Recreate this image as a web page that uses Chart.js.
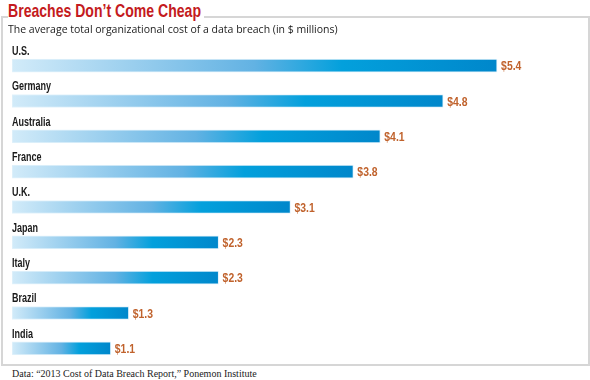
<!DOCTYPE html>
<html>
<head>
<meta charset="utf-8">
<script src="https://cdn.jsdelivr.net/npm/chart.js@4/dist/chart.umd.min.js"></script>
<style>
  body { margin: 0; background: #fff; }
  #wrap { position: relative; width: 590px; height: 380px; overflow: hidden; }
  #title {
    position: absolute; left: 8px; top: 0px;
    font-family: "Liberation Sans", Arial, sans-serif;
    font-weight: bold; font-size: 19px; color: #c41a20;
    transform: scaleX(0.74); transform-origin: 0 0;
    background: #fff; padding-right: 4px; z-index: 2; line-height: 22px;
  }
  #box {
    position: absolute; left: 1px; top: 16px; width: 585px; height: 346px;
    border: 2px solid #d6d6d6;
  }
  #subtitle {
    position: absolute; left: 8px; top: 22px;
    font-family: "Open Sans", "Liberation Sans", sans-serif; font-size: 10.5px; color: #222;
    z-index: 2;
  }
  #source {
    position: absolute; left: 12px; top: 368px;
    font-family: "Liberation Serif", "DejaVu Serif", serif; font-size: 10px; color: #222;
  }
  canvas { position: absolute; left: 0; top: 0; }
</style>
</head>
<body>
<div id="wrap">
  <div id="box"></div>
  <div id="title">Breaches Don’t Come Cheap</div>
  <div id="subtitle">The average total organizational cost of a data breach (in $ millions)</div>
  <div id="source">Data: “2013 Cost of Data Breach Report,” Ponemon Institute</div>
  <canvas id="barChart" width="590" height="380"></canvas>
</div>
<script>
var countries = ['U.S.', 'Germany', 'Australia', 'France', 'U.K.', 'Japan', 'Italy', 'Brazil', 'India'];
var costs = [5.4, 4.8, 4.1, 3.8, 3.1, 2.3, 2.3, 1.3, 1.1];

var labelFont = '"Liberation Sans", Arial, sans-serif';

// gradient goes from light to dark along each bar
function barGradient(context) {
  var chart = context.chart;
  if (!chart.chartArea) return '#30a0dc';
  var x = chart.scales.x;
  var x0 = x.getPixelForValue(0);
  var x1 = x.getPixelForValue(costs[context.dataIndex]);
  var g = chart.ctx.createLinearGradient(x0, 0, x1, 0);
  g.addColorStop(0, '#d2ebf9');
  g.addColorStop(0.5, '#62b2e3');
  g.addColorStop(0.68, '#03a0dc');
  g.addColorStop(1, '#0087cb');
  return g;
}

// draw squeezed text to fake the condensed face of the original
function narrowText(ctx, text, x, y, squeeze) {
  ctx.save();
  ctx.translate(x, y);
  ctx.scale(squeeze, 1);
  ctx.fillText(text, 0, 0);
  ctx.restore();
}

// country name above each bar, dollar value right of it
var barLabels = {
  id: 'barLabels',
  afterDatasetsDraw: function (chart) {
    var ctx = chart.ctx;
    var meta = chart.getDatasetMeta(0);
    ctx.save();
    ctx.textBaseline = 'middle';
    ctx.textAlign = 'left';
    meta.data.forEach(function (bar, i) {
      ctx.font = 'bold 12px ' + labelFont;
      ctx.fillStyle = '#1a1a1a';
      narrowText(ctx, countries[i], bar.base, bar.y - 14, 0.75);
      ctx.font = 'bold 13px ' + labelFont;
      ctx.fillStyle = '#c0622c';
      narrowText(ctx, '$' + costs[i].toFixed(1), bar.x + 4, bar.y + 1, 0.8);
    });
    ctx.restore();
  }
};

var ctx = document.getElementById('barChart');
var myBarChart = new Chart(ctx, {
  type: 'bar',
  data: {
    labels: countries,
    datasets: [{
      data: costs,
      backgroundColor: barGradient,
      borderColor: '#e2f2fb',
      borderWidth: 1,
      borderSkipped: false,
      barThickness: 13
    }]
  },
  options: {
    indexAxis: 'y',
    responsive: false,
    animation: false,
    layout: { padding: { left: 12, right: 39, top: 48, bottom: 14 } },
    plugins: { legend: { display: false }, tooltip: { enabled: false } },
    scales: {
      x: { min: 0, max: 6, display: false },
      y: { display: false }
    }
  },
  plugins: [barLabels]
});
</script>
</body>
</html>
